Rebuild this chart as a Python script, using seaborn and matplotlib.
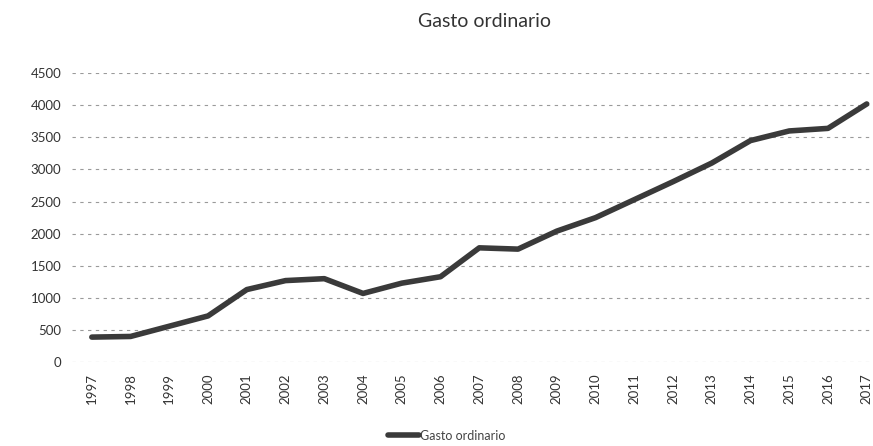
import pandas as pd
import matplotlib.pyplot as plt
import seaborn as sns

# Datos
anios = [str(a) for a in range(1997, 2018)]
gasto = [390, 400, 560, 720, 1130, 1270, 1300, 1070, 1230, 1330, 1780,
         1760, 2040, 2250, 2530, 2810, 3100, 3450, 3600, 3640, 4020]
yticks = [0, 500, 1000, 1500, 2000, 2500, 3000, 3500, 4000, 4500]

df = pd.DataFrame({'Año': anios, 'Gasto ordinario': gasto})

sns.set_style('white')
plt.rcParams['font.family'] = ['Lato', 'DejaVu Sans']

fig = plt.figure(figsize=(8.73, 4.46), dpi=100)
ax = fig.add_axes([0.083, 0.188, 0.932, 0.648])

sns.lineplot(data=df, x='Año', y='Gasto ordinario', color='#3a3a3a',
             linewidth=4, sort=False, ax=ax, label='Gasto ordinario')

ax.set_xlim(-0.5, 20.5)
ax.set_ylim(0, 4500)
ax.set_yticks(yticks)
ax.set_yticklabels([str(v) for v in yticks], fontsize=9.5, color='#333333')
ax.set_xticks(range(len(anios)))
ax.set_xticklabels(anios, rotation=90, fontsize=9.5, color='#333333')
ax.tick_params(axis='both', length=0, pad=8)
ax.yaxis.grid(True, color='#9a9a9a', linewidth=0.8, linestyle=(0, (3, 4)))
ax.set_axisbelow(True)
for s in ax.spines.values():
    s.set_visible(False)
ax.set_xlabel('')
ax.set_ylabel('')

fig.suptitle('Gasto ordinario', x=0.555, y=0.97, fontsize=14, color='#333333')
ax.legend(loc='center', bbox_to_anchor=(0.46, -0.255), frameon=False,
          fontsize=9, handlelength=2.5, handletextpad=0.1, labelcolor='#444444')

plt.savefig('out.png', dpi=100)
